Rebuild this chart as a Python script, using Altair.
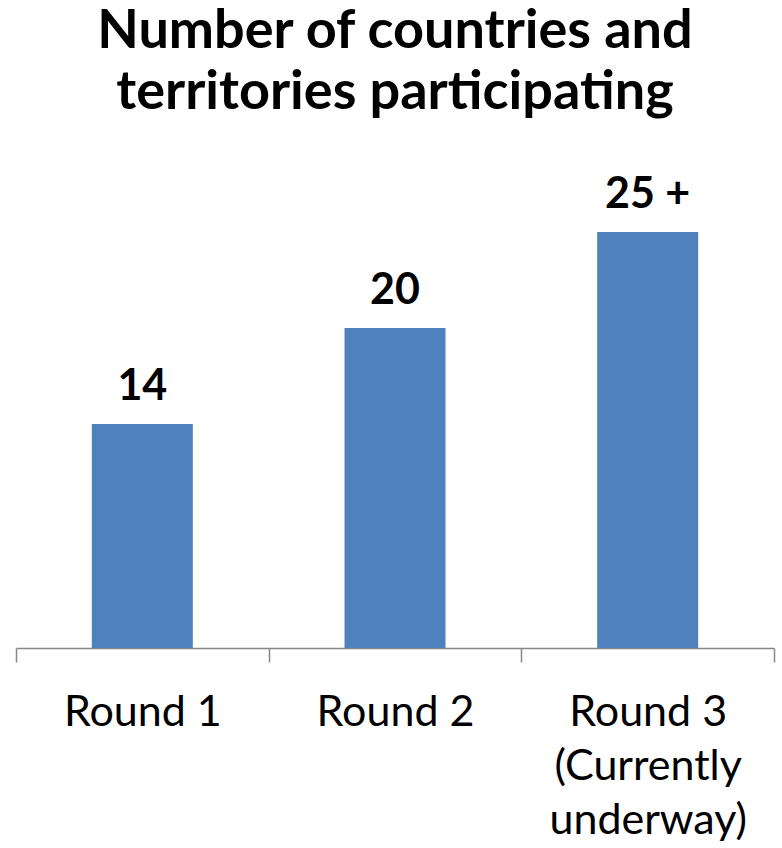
import altair as alt
import pandas as pd

categories = ["Round 1", "Round 2", "Round 3\n(Currently\nunderway)"]
values = [14, 20, 26]
value_labels = ["14", "20", "25 +"]

df = pd.DataFrame({"round": categories, "value": values, "label": value_labels})

FONT = "Lato"

base = alt.Chart(df).encode(
    x=alt.X(
        "round:N",
        sort=categories,
        scale=alt.Scale(paddingInner=0, paddingOuter=0),
        axis=alt.Axis(
            title=None,
            labelAngle=0,
            labelExpr="split(datum.label, '\\n')",
            labelFont=FONT,
            labelFontSize=43,
            labelColor="#000000",
            labelPadding=29,
            labelLineHeight=54,
            labelBaseline="top",
            labelLimit=0,
            domainColor="#878787",
            domainWidth=1.5,
            tickColor="#878787",
            tickWidth=1.5,
            tickSize=14,
            tickBand="extent",
            grid=False,
        ),
    ),
    y=alt.Y("value:Q", scale=alt.Scale(domain=[0, 30], nice=False), axis=None),
)

bars = base.mark_bar(size=101, color="#4F81BD")
text = base.mark_text(
    dy=-24, baseline="alphabetic", font=FONT, fontSize=43, fontWeight="bold", color="#000000"
).encode(text="label:N")

chart = (
    alt.layer(bars, text)
    .properties(
        width=758,
        height=480,
        title=alt.TitleParams(
            text=["Number of countries and", "territories participating"],
            font=FONT,
            fontSize=54,
            fontWeight="bold",
            color="#000000",
            anchor="middle",
            lineHeight=61,
            offset=5,
            baseline="alphabetic",
        ),
        view=alt.ViewBackground(strokeWidth=0, strokeOpacity=0),
        autosize=alt.AutoSizeParams(type="none"),
        padding={"left": 16, "right": 8, "top": 168, "bottom": 200},
    )
    .configure_view(strokeWidth=0, strokeOpacity=0)
    .configure(background="white")
)

chart.save("out.html", embed_options={"renderer": "svg", "actions": False})
